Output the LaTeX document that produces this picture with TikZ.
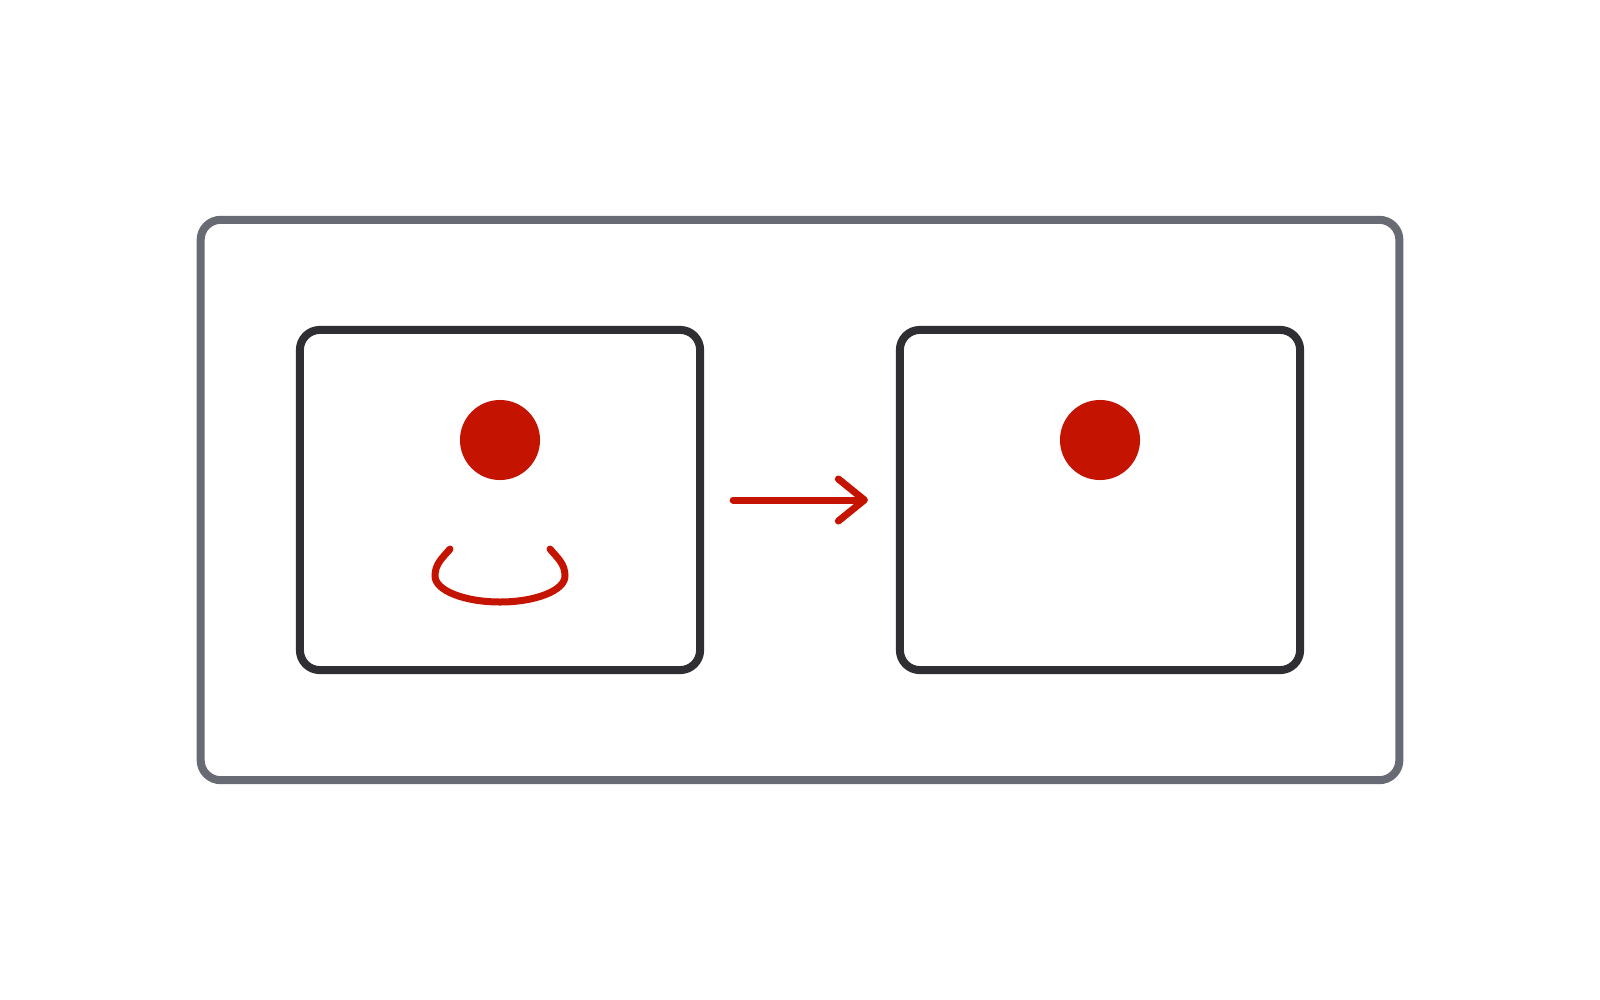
\documentclass[tikz,border=0pt]{standalone}
\usetikzlibrary{arrows.meta}
\definecolor{outergray}{HTML}{686B73}
\definecolor{innerdark}{HTML}{2E2E33}
\definecolor{accentred}{HTML}{C41400}
\begin{document}
\begin{tikzpicture}[x=0.01cm,y=-0.01cm,
  framebox/.style={draw=outergray,line width=0.08cm,rounded corners=0.2cm,minimum width=11.98cm,minimum height=5.6cm,inner sep=0pt},
  panelbox/.style={draw=innerdark,line width=0.08cm,rounded corners=0.2cm,minimum width=4cm,minimum height=3.4cm,inner sep=0pt},
  dotnode/.style={circle,fill=accentred,minimum size=0.8cm,inner sep=0pt},
  redline/.style={draw=accentred,line width=0.07cm,line cap=round,line join=round}]
\fill[white] (0,0) rectangle (1600,1000);
\useasboundingbox (0,0) rectangle (1600,1000);
\node[framebox] (frame) at (800,500) {};
\node[panelbox] (left) at (500,500) {};
\node[panelbox] (right) at (1100,500) {};
\node[dotnode] (dotL) at (500,440) {};
\node[dotnode] (dotR) at (1100,440) {};
\draw[redline,-{Straight Barb[length=0.26cm,width=0.42cm,line cap=round,line join=round]},shorten <=0.29cm,shorten >=0.28cm] (left.east) -- (right.west);
\coordinate (smileL) at (450,549);
\coordinate (smileR) at (550,549);
\draw[redline] (smileL) to[out=230,in=90] (435,576) arc[start angle=180,end angle=360,x radius=65,y radius=-26] to[out=90,in=-50] (smileR);
\end{tikzpicture}
\end{document}
